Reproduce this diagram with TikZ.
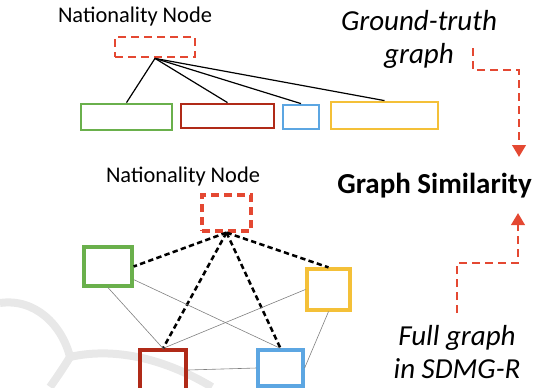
\documentclass[tikz,border=0pt]{standalone}
\usepackage{fontspec}
\setmainfont{Carlito}
\usetikzlibrary{arrows.meta}

\definecolor{natred}{RGB}{228,72,50}
\definecolor{grn}{RGB}{106,176,76}
\definecolor{drk}{RGB}{176,42,24}
\definecolor{blu}{RGB}{92,166,226}
\definecolor{ylw}{RGB}{244,192,56}

\begin{document}
\begin{tikzpicture}[x=0.75pt,y=0.75pt,yscale=-1,xscale=1,
  colbox/.style={draw=#1,line width=2.1pt,inner sep=0pt},
  natbox/.style={draw=natred,line width=2.1pt,dash pattern=on 6pt off 3.75pt,inner sep=0pt},
  link/.style={line width=0.9pt},
  natlink/.style={line width=1.9pt,dash pattern=on 4pt off 2.5pt},
  weak/.style={line width=0.45pt,draw=black!50},
  flow/.style={draw=natred,line width=2.1pt,dash pattern=on 6pt off 3.75pt,-{Triangle[width=10pt,length=9pt]}},
  label/.style={font=\fontsize{16.8}{20}\selectfont,inner sep=0pt},
  caption/.style={font=\fontsize{21.75}{24.75}\selectfont\itshape,align=center,inner sep=0pt}
]
\useasboundingbox (0,0) rectangle (538,387);

%Watermark
\draw [line width=6pt,black!9] (0,303) .. controls (35,298) and (62,325) .. (70,357) ;
\draw [line width=6pt,black!9] (70,357) .. controls (100,350) and (150,350) .. (212,387) ;
\draw [line width=6pt,black!9] (70,357) .. controls (62,370) and (55,380) .. (50,387) ;

% Ground-truth graph
\node [label] (nat1) at (135,17) {Nationality Node};
\node [natbox,minimum width=60pt,minimum height=15pt] (hub1) at (155,47) {};
\node [colbox=grn,minimum width=68.25pt,minimum height=19.5pt] (g1) at (126.5,117) {};
\node [colbox=drk,minimum width=69.75pt,minimum height=18pt] (r1) at (227.5,116) {};
\node [colbox=blu,minimum width=27pt,minimum height=18pt] (b1) at (301,117) {};
\node [colbox=ylw,minimum width=80.25pt,minimum height=20.25pt] (y1) at (384.5,115.5) {};
\draw [link] (hub1.south) -- (g1.north) ;
\draw [link] (hub1.south) -- (r1.north) ;
\draw [link] (hub1.south) -- (b1.north) ;
\draw [link] (hub1.south) -- (y1.north) ;

% Full graph
\node [label] (nat2) at (183,177) {Nationality Node};
\node [natbox,line width=2.4pt,minimum width=36.75pt,minimum height=27pt] (hub2) at (226.5,213) {};
\node [colbox=grn,line width=2.4pt,minimum width=36pt,minimum height=29.25pt] (g2) at (108,266.5) {};
\node [colbox=ylw,line width=2.4pt,minimum width=32.25pt,minimum height=30.75pt] (y2) at (328.5,289.5) {};
\node [colbox=drk,line width=2.4pt,minimum width=34.5pt,minimum height=30pt] (r2) at (163,370) {};
\node [colbox=blu,line width=2.4pt,minimum width=33.75pt,minimum height=27pt] (b2) at (280.5,368) {};
\draw [natlink] (hub2.south) -- (g2.east) ;
\draw [natlink] (hub2.south) -- (r2.north) ;
\draw [natlink] (hub2.south) -- (b2.north) ;
\draw [natlink] (hub2.south) -- (y2.north) ;
\draw [weak] (g2.south) -- (r2.north) ;
\draw [weak] (g2.-27) -- (b2.north) ;
\draw [weak] (r2.north) -- (y2.west) ;
\draw [weak] (y2.south) -- (b2.east) ;
\draw [weak] (r2.east) -- (b2.west) ;

% Text Node
\node [caption,anchor=base] (gt) at (419,63) {Ground-truth\\graph};
% Text Node
\node [font=\fontsize{21.75}{26}\selectfont\bfseries,anchor=base,inner sep=0pt] (sim) at (434.5,193) {Graph Similarity};
% Text Node
\node [caption,anchor=base] (full) at (457,378) {Full graph\\in SDMG-R};

%Dashed arrows
\coordinate (gtend) at (473,48);
\coordinate (simtop) at (519,157);
\coordinate (fullend) at (457,313);
\coordinate (simbot) at (518,213);
\draw [flow] (gtend) -- ++(0,22) -| (simtop) ;
\draw [flow] (fullend) -- ++(0,-50) -| (simbot) ;
\end{tikzpicture}
\end{document}
